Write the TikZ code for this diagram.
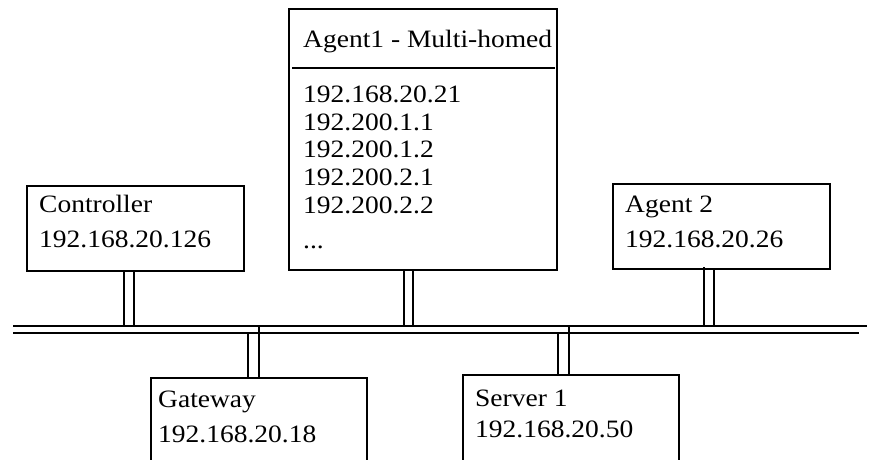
\documentclass[tikz,border=0pt]{standalone}
\usepackage{fontspec}
\setmainfont{Liberation Serif}[FakeStretch=1.1]
\usetikzlibrary{calc}
\tikzstyle{host} = [draw, rectangle, line width=2pt, outer sep=0pt, inner sep=0pt, anchor=north west]
\tikzstyle{wire} = [line width=2pt]
\tikzstyle{addr} = [anchor=base west, inner sep=0pt, align=left, font=\fontsize{25}{35}\selectfont]
\newcommand{\upwire}[2]{\draw[wire] ([xshift=#2]#1.south west) coordinate (tmp) -- (tmp |- bustop);}
\newcommand{\downwire}[3]{\draw[wire] ([xshift=#2]#1.north west) coordinate (tmp) -- (tmp |- #3);}

\begin{document}
\begin{tikzpicture}[x=1pt, y=-1pt]

		\clip (0,0) rectangle (870,459);

		% Bus
		\coordinate (bustop) at (13,326);
		\coordinate (bustopend) at (867,326);
		\coordinate (busbot) at (13,333);
		\coordinate (busbotend) at (859,333);
		\draw[wire] (bustop) -- (bustopend);
		\draw[wire] (busbot) -- (busbotend);

		% Hosts
		\node[host, minimum width=217, minimum height=85] (ctrl) at (27,186) {};
		\node[host, minimum width=268, minimum height=261] (agone) at (289,9) {};
		\node[host, minimum width=217, minimum height=85] (agtwo) at (613,184) {};
		\node[host, minimum width=216, minimum height=140] (gw) at (151,378) {};
		\node[host, minimum width=216, minimum height=140] (srv) at (463,375) {};
		\draw[wire] ([xshift=3, yshift=-59]agone.north west) -- ([xshift=-2, yshift=-59]agone.north east);

		% Labels (base = last line)
		\node[addr] (ctrl-txt) at ([shift={(12,61)}]ctrl.north west) {Controller\\192.168.20.126};
		\node[addr] (agone-txt) at ([shift={(14,38)}]agone.north west) {Agent1 - Multi-homed};
		\node[addr, font=\fontsize{25}{27.6}\selectfont] (agone-ips) at ([shift={(14,239)}]agone.north west)
			{192.168.20.21\\192.200.1.1\\192.200.1.2\\192.200.2.1\\192.200.2.2\\[7.4pt]...};
		\node[addr] (agtwo-txt) at ([shift={(12,63)}]agtwo.north west) {Agent 2\\192.168.20.26};
		\node[addr] (gw-txt) at ([shift={(7,64)}]gw.north west) {Gateway\\192.168.20.18};
		\node[addr, font=\fontsize{25}{31}\selectfont] (srv-txt) at ([shift={(12,62)}]srv.north west) {Server 1\\192.168.20.50};

		% Links
		\upwire{ctrl}{97}
		\upwire{ctrl}{107}
		\upwire{agone}{115}
		\upwire{agone}{124}
		\draw[wire] ([xshift=91, yshift=2]agtwo.south west) coordinate (tmp) -- (tmp |- bustop);
		\upwire{agtwo}{101}
		\downwire{gw}{97}{busbot}
		\downwire{gw}{108}{bustop}
		\downwire{srv}{95}{busbot}
		\downwire{srv}{106}{bustop}
	\end{tikzpicture}
\end{document}
